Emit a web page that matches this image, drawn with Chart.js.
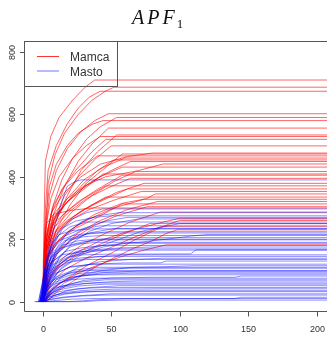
<!DOCTYPE html>
<html><head><meta charset="utf-8">
<script src="https://cdn.jsdelivr.net/npm/chart.js@4"></script>
<style>html,body{margin:0;padding:0;background:#fff;overflow:hidden}canvas{display:block}</style>
</head><body>
<canvas id="c" width="327" height="338"></canvas>
<script>
const chartTitle = 'APF';
const titleSub = '1';
const seriesNames = ['Mamca', 'Masto'];
const xTicks = [0, 50, 100, 150, 200];
const yTicks = [0, 200, 400, 600, 800];

// each curve: x0,y0, x1,y1, ...
const mamcaCurves = [
 [0,0, 1,250, 2,450, 6,530, 12,590, 22,646, 31,687, 38,710, 210,710],
 [1,0, 2,200, 4,380, 9,470, 16,540, 26,600, 36,645, 46,675, 52,687, 210,687],
 [0,0, 2,300, 4,420, 10,500, 18,570, 26,620, 34,655, 42,674, 210,674],
 [0,0, 2,220, 5,340, 10,420, 18,490, 28,545, 38,580, 48,602, 210,602],
 [1,0, 3,200, 7,300, 14,390, 22,460, 32,520, 42,560, 54,590, 210,590],
 [0,0, 2,260, 5,370, 10,440, 18,500, 26,540, 36,568, 44,580, 210,580],
 [0,0, 3,180, 8,280, 16,370, 26,450, 36,505, 48,556, 210,556],
 [1,0, 3,150, 9,250, 18,340, 28,420, 40,480, 54,534, 210,534],
 [0,0, 2,230, 6,330, 12,400, 22,460, 32,500, 42,529, 210,529],
 [0,0, 2,180, 6,280, 14,360, 24,420, 36,480, 46,520, 210,520],
 [0,0, 3,160, 8,260, 16,340, 26,400, 38,455, 50,499, 210,499],
 [0,0, 2,200, 7,290, 16,350, 28,400, 42,440, 62,465, 80,476, 210,476],
 [1,0, 4,140, 10,230, 20,310, 32,380, 46,430, 58,473, 210,473],
 [0,0, 3,220, 8,310, 16,370, 26,420, 40,467, 210,467],
 [1,0, 3,170, 8,260, 18,330, 30,390, 44,430, 60,460, 210,460],
 [0,0, 2,150, 7,240, 16,310, 28,370, 40,420, 52,454, 210,454],
 [1,0, 3,190, 9,270, 20,330, 34,380, 50,420, 64,449, 210,449],
 [0,0, 3,210, 8,280, 18,330, 30,370, 46,400, 70,420, 88,441, 210,441],
 [0,0, 2,170, 7,250, 16,310, 28,360, 42,400, 58,431, 210,431],
 [1,0, 4,150, 10,230, 22,290, 36,340, 52,385, 68,417, 210,417],
 [0,0, 3,200, 8,270, 18,320, 30,360, 44,409, 210,409],
 [0,0, 2,140, 6,220, 15,280, 26,320, 40,360, 58,405, 210,405],
 [0,0, 3,170, 9,240, 20,290, 32,330, 48,365, 64,395, 210,395],
 [1,0, 4,150, 11,220, 22,270, 36,310, 54,350, 74,379, 210,379],
 [0,0, 3,190, 8,250, 18,290, 30,330, 46,371, 210,371],
 [0,0, 2,130, 7,200, 16,250, 28,290, 44,325, 62,361, 210,361],
 [0,0, 3,160, 9,220, 20,260, 34,295, 52,325, 72,353, 210,353],
 [1,0, 4,140, 12,200, 24,240, 38,280, 58,315, 76,330, 82,345, 210,345],
 [0,0, 3,170, 8,220, 18,260, 30,295, 46,335, 210,335],
 [0,0, 2,120, 8,180, 20,230, 34,265, 52,300, 74,328, 210,328],
 [1,0, 5,110, 13,170, 26,220, 42,260, 62,295, 84,321, 210,321],
 [0,0, 3,140, 10,190, 24,235, 40,270, 58,313, 210,313],
 [1,0, 4,110, 11,160, 22,200, 36,240, 54,275, 76,304, 210,304],
 [0,0, 1,150, 3,250, 8,280, 20,292, 36,300, 210,300],
 [2,0, 6,90, 15,140, 28,180, 44,215, 64,255, 86,287, 210,287],
 [1,0, 5,80, 14,125, 26,160, 42,195, 62,225, 88,255, 100,267, 210,267],
 [2,0, 8,45, 20,80, 34,120, 50,155, 66,195, 80,225, 92,248, 100,260, 210,260],
 [1,0, 4,70, 13,115, 26,150, 40,180, 58,215, 78,250, 210,250],
 [2,0, 6,60, 17,105, 32,140, 48,170, 66,205, 86,240, 210,240],
 [3,0, 10,30, 22,65, 36,105, 52,140, 66,170, 80,195, 90,218, 98,230, 210,230],
 [2,0, 6,35, 15,65, 28,95, 42,120, 58,145, 74,165, 90,182, 210,182]
];

const mastoCurves = [
 [-2,0, 2,120, 6,200, 10,260, 14,320, 18,370, 24,385, 28,390, 210,390],
 [-1,0, 3,100, 8,180, 14,230, 22,265, 32,285, 44,297, 210,297],
 [0,0, 4,90, 10,170, 18,220, 28,255, 40,275, 56,285, 210,285],
 [-2,0, 2,110, 7,190, 14,235, 24,258, 38,270, 50,275, 210,275],
 [-1,0, 3,80, 9,150, 18,200, 30,235, 46,258, 62,270, 210,270],
 [0,0, 5,70, 12,140, 22,190, 34,225, 50,250, 70,265, 210,265],
 [-3,0, 1,90, 5,160, 11,210, 20,240, 32,255, 210,255],
 [-1,0, 4,60, 12,110, 24,150, 40,175, 56,200, 72,225, 88,240, 100,250, 210,250],
 [-2,0, 3,100, 8,170, 16,210, 28,232, 42,243, 210,243],
 [0,0, 4,80, 10,150, 20,195, 34,220, 52,234, 210,234],
 [-1,0, 2,120, 6,180, 12,215, 22,228, 36,233, 210,233],
 [-2,0, 3,90, 9,160, 18,200, 32,216, 48,224, 210,224],
 [-2,0, 2,100, 6,160, 12,195, 22,212, 36,220, 210,220],
 [0,0, 5,60, 14,110, 28,150, 44,175, 62,188, 70,190, 90,200, 108,210, 120,215, 210,215],
 [-1,0, 3,100, 8,160, 16,195, 30,208, 44,212, 210,212],
 [0,0, 4,70, 10,130, 20,175, 34,195, 52,205, 210,205],
 [-3,0, 1,80, 6,140, 14,180, 26,195, 40,200, 210,200],
 [0,0, 3,90, 9,150, 18,180, 30,192, 46,198, 210,198],
 [-1,0, 2,90, 6,140, 12,170, 24,184, 40,190, 210,190],
 [-1,0, 4,60, 12,120, 24,160, 40,178, 60,187, 210,187],
 [0,0, 3,80, 8,130, 16,160, 28,172, 44,180, 210,180],
 [-2,0, 2,70, 8,120, 18,150, 34,165, 56,172, 80,175, 210,175],
 [0,0, 4,60, 10,110, 20,145, 36,160, 54,169, 210,169],
 [-1,0, 3,70, 9,120, 18,142, 30,150, 46,152, 108,153, 112,166, 210,166],
 [0,0, 2,80, 6,125, 14,150, 28,160, 44,165, 210,165],
 [0,0, 5,50, 12,100, 22,130, 38,143, 60,150, 210,150],
 [-2,0, 2,60, 7,105, 16,130, 28,140, 42,145, 210,145],
 [1,0, 6,40, 14,80, 26,110, 42,128, 64,135, 88,139, 210,139],
 [0,0, 3,60, 8,100, 18,125, 32,135, 210,135],
 [-1,0, 4,50, 10,90, 20,112, 36,120, 60,124, 86,124, 90,130, 210,130],
 [0,0, 3,50, 9,90, 20,110, 36,120, 210,120],
 [2,0, 7,30, 16,60, 28,85, 44,100, 66,110, 90,112, 110,115, 210,115],
 [-1,0, 3,45, 10,80, 22,100, 40,110, 210,110],
 [0,0, 4,40, 11,75, 22,95, 38,104, 56,107, 210,107],
 [-2,0, 2,40, 8,70, 18,90, 34,100, 210,100],
 [1,0, 5,30, 13,60, 26,82, 44,93, 70,98, 210,98],
 [0,0, 3,40, 10,70, 22,88, 38,95, 210,95],
 [-1,0, 4,30, 12,60, 24,80, 42,88, 64,91, 210,91],
 [0,0, 3,35, 9,62, 20,78, 36,86, 210,86],
 [1,0, 6,25, 15,50, 30,68, 50,76, 80,78, 140,78, 145,82, 210,82],
 [-2,0, 2,30, 8,55, 20,70, 36,75, 210,75],
 [0,0, 4,25, 12,48, 26,62, 46,70, 210,70],
 [1,0, 5,25, 14,45, 30,58, 50,64, 70,66, 210,66],
 [-1,0, 3,25, 10,45, 22,55, 40,60, 210,60],
 [0,0, 4,20, 12,38, 26,50, 46,56, 210,56],
 [2,0, 8,18, 18,35, 34,45, 56,51, 210,51],
 [-1,0, 4,18, 12,32, 26,42, 44,45, 210,45],
 [0,0, 5,15, 14,28, 30,36, 52,40, 88,41, 210,41],
 [1,0, 6,12, 16,24, 32,32, 54,35, 210,35],
 [-2,0, 3,12, 10,22, 24,30, 40,32, 210,32],
 [0,0, 6,8, 16,15, 30,20, 50,25, 210,25],
 [-1,0, 5,6, 14,12, 28,18, 46,21, 210,21],
 [2,0, 10,4, 22,8, 36,10, 140,10, 145,14, 210,14],
 [-5,0, 20,0, 30,3, 44,7, 60,10, 210,10],
 [-6,0, 30,0, 40,3, 58,5, 210,5]
];

function toPoints(flat) {
  const pts = [];
  for (let i = 0; i < flat.length; i += 2) pts.push({x: flat[i], y: flat[i + 1]});
  return pts;
}
const RED = 'rgba(255,0,0,0.6)';
const BLUE = 'rgba(0,0,255,0.45)';
const datasets = [];
mamcaCurves.forEach(c => datasets.push({label: seriesNames[0], data: toPoints(c), borderColor: RED, borderWidth: 1, pointRadius: 0, fill: false, order: 1}));
mastoCurves.forEach(c => datasets.push({label: seriesNames[1], data: toPoints(c), borderColor: BLUE, borderWidth: 1, pointRadius: 0, fill: false, order: 0}));

const frame = {
  id: 'frame',
  afterDraw(chart) {
    const ctx = chart.ctx, a = chart.chartArea;
    const xs = chart.scales.x, ys = chart.scales.y;
    ctx.save();
    ctx.strokeStyle = '#555';
    ctx.lineWidth = 1;
    ctx.beginPath();
    ctx.moveTo(a.right + 2, a.top + 0.5);
    ctx.lineTo(a.left + 0.5, a.top + 0.5);
    ctx.lineTo(a.left + 0.5, a.bottom + 0.5);
    ctx.lineTo(a.right + 2, a.bottom + 0.5);
    ctx.stroke();
    ctx.fillStyle = '#333';
    ctx.font = '9px "Liberation Sans", Arial, sans-serif';
    ctx.textAlign = 'center'; ctx.textBaseline = 'alphabetic';
    xTicks.forEach(v => {
      const px = Math.round(xs.getPixelForValue(v)) + 0.5;
      ctx.beginPath(); ctx.moveTo(px, a.bottom + 0.5); ctx.lineTo(px, a.bottom + 5.5); ctx.stroke();
      ctx.fillText(String(v), px, a.bottom + 21);
    });
    yTicks.forEach(v => {
      const py = Math.round(ys.getPixelForValue(v)) + 0.5;
      ctx.beginPath(); ctx.moveTo(a.left - 4, py); ctx.lineTo(a.left + 0.5, py); ctx.stroke();
      ctx.save();
      ctx.translate(a.left - 9, py);
      ctx.rotate(-Math.PI / 2);
      ctx.textAlign = 'center'; ctx.textBaseline = 'alphabetic';
      ctx.fillText(String(v), 0, 0);
      ctx.restore();
    });
    // legend
    ctx.strokeStyle = '#555';
    ctx.strokeRect(a.left + 0.5, a.top + 0.5, 93, 45);
    const items = [[seriesNames[0], 'rgba(255,0,0,0.8)'], [seriesNames[1], 'rgba(0,0,255,0.55)']];
    ctx.font = '12px "Liberation Sans", Arial, sans-serif';
    ctx.textAlign = 'left';
    items.forEach((it, i) => {
      const ly = a.top + 15.5 + i * 14.5;
      ctx.strokeStyle = it[1];
      ctx.beginPath(); ctx.moveTo(a.left + 13, ly); ctx.lineTo(a.left + 35, ly); ctx.stroke();
      ctx.fillStyle = '#333';
      ctx.fillText(it[0], a.left + 46, ly + 4.5);
    });
    // title
    ctx.fillStyle = '#111';
    ctx.font = 'italic 20px "Liberation Serif", serif';
    ctx.letterSpacing = '3px';
    ctx.textAlign = 'left';
    ctx.fillText(chartTitle, 132, 24);
    const w = ctx.measureText(chartTitle).width;
    ctx.letterSpacing = '0px';
    ctx.font = '13px "Liberation Serif", serif';
    ctx.fillText(titleSub, 132 + w - 1, 27.5);
    ctx.restore();
  }
};

new Chart(document.getElementById('c'), {
  type: 'line',
  data: {datasets},
  options: {
    responsive: false,
    animation: false,
    devicePixelRatio: 1,
    layout: {padding: {left: 24, top: 41, right: 0, bottom: 27}},
    plugins: {legend: {display: false}, title: {display: false}, tooltip: {enabled: false}},
    elements: {line: {tension: 0}},
    scales: {
      x: {type: 'linear', min: -13.6, max: 207.5, display: false},
      y: {type: 'linear', min: -30, max: 835, display: false}
    }
  },
  plugins: [frame]
});
</script>
</body></html>
